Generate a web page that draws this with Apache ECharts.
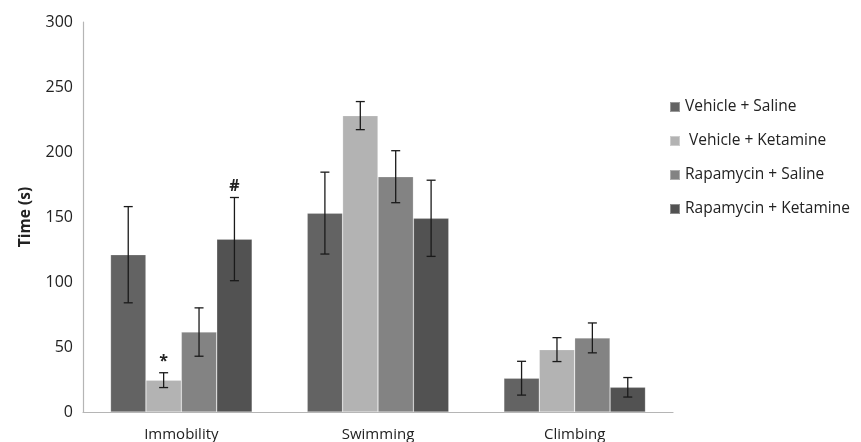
<!DOCTYPE html>
<html><head><meta charset="utf-8">
<script src="https://cdn.jsdelivr.net/npm/echarts@6/dist/echarts.min.js"></script>
<style>html,body{margin:0;padding:0;background:#fff}#c{width:861px;height:442px}</style>
</head><body><div id="c"></div>
<script>
var categories = ['Immobility', 'Swimming', 'Climbing'];
var seriesNames = ['Vehicle + Saline', ' Vehicle + Ketamine', 'Rapamycin + Saline', 'Rapamycin + Ketamine'];
var vehSal = [121, 153, 26];
var vehKet = [24.5, 228, 48];
var rapSal = [61.5, 181, 57];
var rapKet = [133, 149, 19];
var errVehSal = [37, 31.5, 13];
var errVehKet = [5.7, 10.8, 9.2];
var errRapSal = [18.6, 20, 11.5];
var errRapKet = [32, 29.3, 7.5];
var marksVehSal = ['', '', ''];
var marksVehKet = ['*', '', ''];
var marksRapSal = ['', '', ''];
var marksRapKet = ['#', '', ''];
var yTicks = [0, 50, 100, 150, 200, 250, 300];

var values = [vehSal, vehKet, rapSal, rapKet];
var errs = [errVehSal, errVehKet, errRapSal, errRapKet];
var marks = [marksVehSal, marksVehKet, marksRapSal, marksRapKet];
var colors = ['#636363', '#b3b3b3', '#838383', '#525252'];
var gapPct = 0.28;
var font = '"Open Sans", sans-serif';

var series = [];
values.forEach(function (v, i) {
  series.push({
    name: seriesNames[i], type: 'bar', data: v, barGap: '0%', barCategoryGap: (gapPct * 100) + '%',
    itemStyle: { color: colors[i], borderColor: 'rgba(255,255,255,0.35)', borderWidth: 0.6 }
  });
});
values.forEach(function (v, i) {
  var d = v.map(function (val, k) { return [k, val, errs[i][k], marks[i][k]]; });
  series.push({
    type: 'custom', silent: true, z: 5,
    data: d,
    renderItem: function (params, api) {
      var k = api.value(0), val = api.value(1), e = api.value(2);
      var mark = d[params.dataIndex][3];
      var band = api.size([1, 0])[0];
      var group = band * (1 - gapPct);
      var bw = group / 4;
      var cx = api.coord([k, 0])[0] - group / 2 + bw * (i + 0.5);
      var yt = api.coord([k, val + e])[1];
      var yb = api.coord([k, val - e])[1];
      var cap = 4.5;
      var st = { stroke: '#1a1a1a', lineWidth: 1.3 };
      var children = [
        { type: 'line', shape: { x1: cx, y1: yt, x2: cx, y2: yb }, style: st },
        { type: 'line', shape: { x1: cx - cap, y1: yt, x2: cx + cap, y2: yt }, style: st },
        { type: 'line', shape: { x1: cx - cap, y1: yb, x2: cx + cap, y2: yb }, style: st }
      ];
      if (mark) {
        children.push({ type: 'text', style: { text: mark, x: cx, y: yt - 3, textAlign: 'center', textVerticalAlign: 'bottom', fontSize: 16, fontWeight: 'bold', fill: '#222', fontFamily: font } });
      }
      return { type: 'group', children: children };
    }
  });
});

var chart = echarts.init(document.getElementById('c'));
chart.setOption({
  animation: false,
  textStyle: { fontFamily: font },
  grid: { left: 83, right: 188, top: 22, bottom: 30 },
  legend: {
    orient: 'vertical', left: 664, top: 94, itemWidth: 10, itemHeight: 10, itemGap: 18,
    icon: 'rect', data: seriesNames,
    textStyle: { fontSize: 15.5, color: '#222', lineHeight: 14, fontFamily: font }
  },
  xAxis: {
    type: 'category', data: categories,
    axisLine: { lineStyle: { color: '#b5b5b5', width: 1.2 } },
    axisTick: { show: false },
    axisLabel: { color: '#222', fontSize: 15, margin: 15, fontFamily: font }
  },
  yAxis: {
    type: 'value', min: yTicks[0], max: yTicks[yTicks.length - 1], interval: 50,
    name: 'Time (s)', nameLocation: 'middle', nameGap: 49,
    nameTextStyle: { fontSize: 15.5, fontWeight: 'bold', color: '#222', fontFamily: font },
    axisLine: { show: true, lineStyle: { color: '#b5b5b5', width: 1.2 } },
    axisTick: { show: false },
    splitLine: { show: false },
    axisLabel: { color: '#222', fontSize: 16, margin: 10, fontFamily: font }
  },
  series: series
});
</script></body></html>
